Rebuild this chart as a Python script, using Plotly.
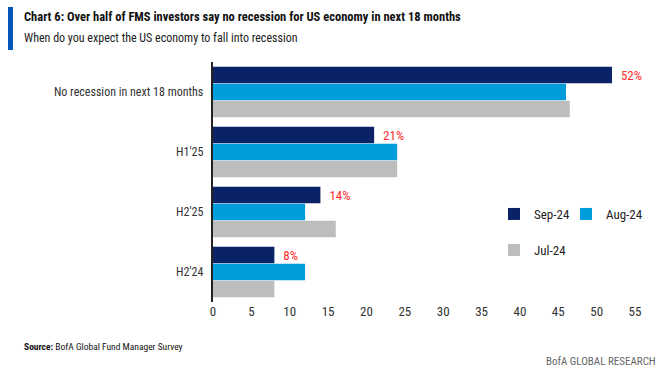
import plotly.graph_objects as go

categories = ["No recession in next 18 months", "H1'25", "H2'25", "H2'24"]
series_names = ["Sep-24", "Aug-24", "Jul-24"]
sep_24 = [52, 21, 14, 8]
aug_24 = [46, 24, 12, 12]
jul_24 = [46.5, 24, 16, 8]
x_ticks = [0, 5, 10, 15, 20, 25, 30, 35, 40, 45, 50, 55]

FONT = "Liberation Sans Narrow, Roboto Condensed, Roboto, sans-serif"
colors = ["#0a2266", "#009ddc", "#bdbdbd"]
W, H = 663, 373
L, R, T, B = 213, 28, 62, 71
PW, PH = W - L - R, H - T - B

def px(x):
    return (x - L) / PW

def py(y):
    return (H - B - y) / PH

fig = go.Figure()
fig.add_trace(go.Bar(
    y=categories, x=sep_24, name=series_names[0], orientation="h",
    marker=dict(color=colors[0], line=dict(width=0)),
    text=["\u00a0\u00a0" + f"{v}%" for v in sep_24], textposition="outside",
    textfont=dict(color="#ff2a2a", size=13, family=FONT), cliponaxis=False,
    legend="legend",
))
fig.add_trace(go.Bar(
    y=categories, x=aug_24, name=series_names[1], orientation="h",
    marker=dict(color=colors[1], line=dict(width=0)), legend="legend2",
))
fig.add_trace(go.Bar(
    y=categories, x=jul_24, name=series_names[2], orientation="h",
    marker=dict(color=colors[2], line=dict(width=0)), legend="legend3",
))

leg_common = dict(orientation="h", xref="container", yref="container",
                  xanchor="left", yanchor="middle", bgcolor="rgba(0,0,0,0)",
                  font=dict(size=13, family=FONT, color="#222"), itemwidth=30)

fig.update_layout(
    width=W, height=H,
    margin=dict(l=L, r=R, t=T, b=B, autoexpand=False),
    paper_bgcolor="white", plot_bgcolor="white",
    barmode="group", bargap=0.15, bargroupgap=0.03,
    font=dict(family=FONT, size=12, color="#222"),
    showlegend=True,
    legend=dict(x=(494) / W, y=1 - 214 / H, **leg_common),
    legend2=dict(x=(566) / W, y=1 - 214 / H, **leg_common),
    legend3=dict(x=(494) / W, y=1 - 250 / H, **leg_common),
    xaxis=dict(range=[0, 55], tickvals=x_ticks, showgrid=False, zeroline=False,
               showline=False, ticks="", tickfont=dict(size=13, family=FONT, color="#333")),
    yaxis=dict(autorange="reversed", showline=True, linecolor="#222", linewidth=1.5,
               ticks="", showgrid=False, ticksuffix="  ", automargin=False,
               tickfont=dict(size=12, family=FONT, color="#333")),
)

# Title block
fig.add_shape(type="rect", xref="paper", yref="paper", x0=px(8), x1=px(13),
              y0=py(50), y1=py(7), fillcolor="#0057b8", line=dict(width=0))
fig.add_annotation(xref="paper", yref="paper", x=px(22), y=py(16),
                   text="<b>Chart 6: Over half of FMS investors say no recession for US economy in next 18 months</b>",
                   showarrow=False, xanchor="left", yanchor="middle",
                   font=dict(size=12.5, family=FONT, color="#111"))
fig.add_annotation(xref="paper", yref="paper", x=px(22), y=py(38),
                   text="When do you expect the US economy to fall into recession",
                   showarrow=False, xanchor="left", yanchor="middle",
                   font=dict(size=12, family=FONT, color="#222"))
fig.add_annotation(xref="paper", yref="paper", x=px(22), y=py(346),
                   text="<b>Source:</b> BofA Global Fund Manager Survey",
                   showarrow=False, xanchor="left", yanchor="middle",
                   font=dict(size=9.5, family=FONT, color="#111"))
fig.add_annotation(xref="paper", yref="paper", x=px(658), y=py(361),
                   text="BofA GLOBAL RESEARCH",
                   showarrow=False, xanchor="right", yanchor="middle",
                   font=dict(size=11, family=FONT, color="#666"))

fig.write_html("out.html", config={"displayModeBar": False},
               post_script="document.body.style.margin='0';document.body.style.overflow='hidden';")
